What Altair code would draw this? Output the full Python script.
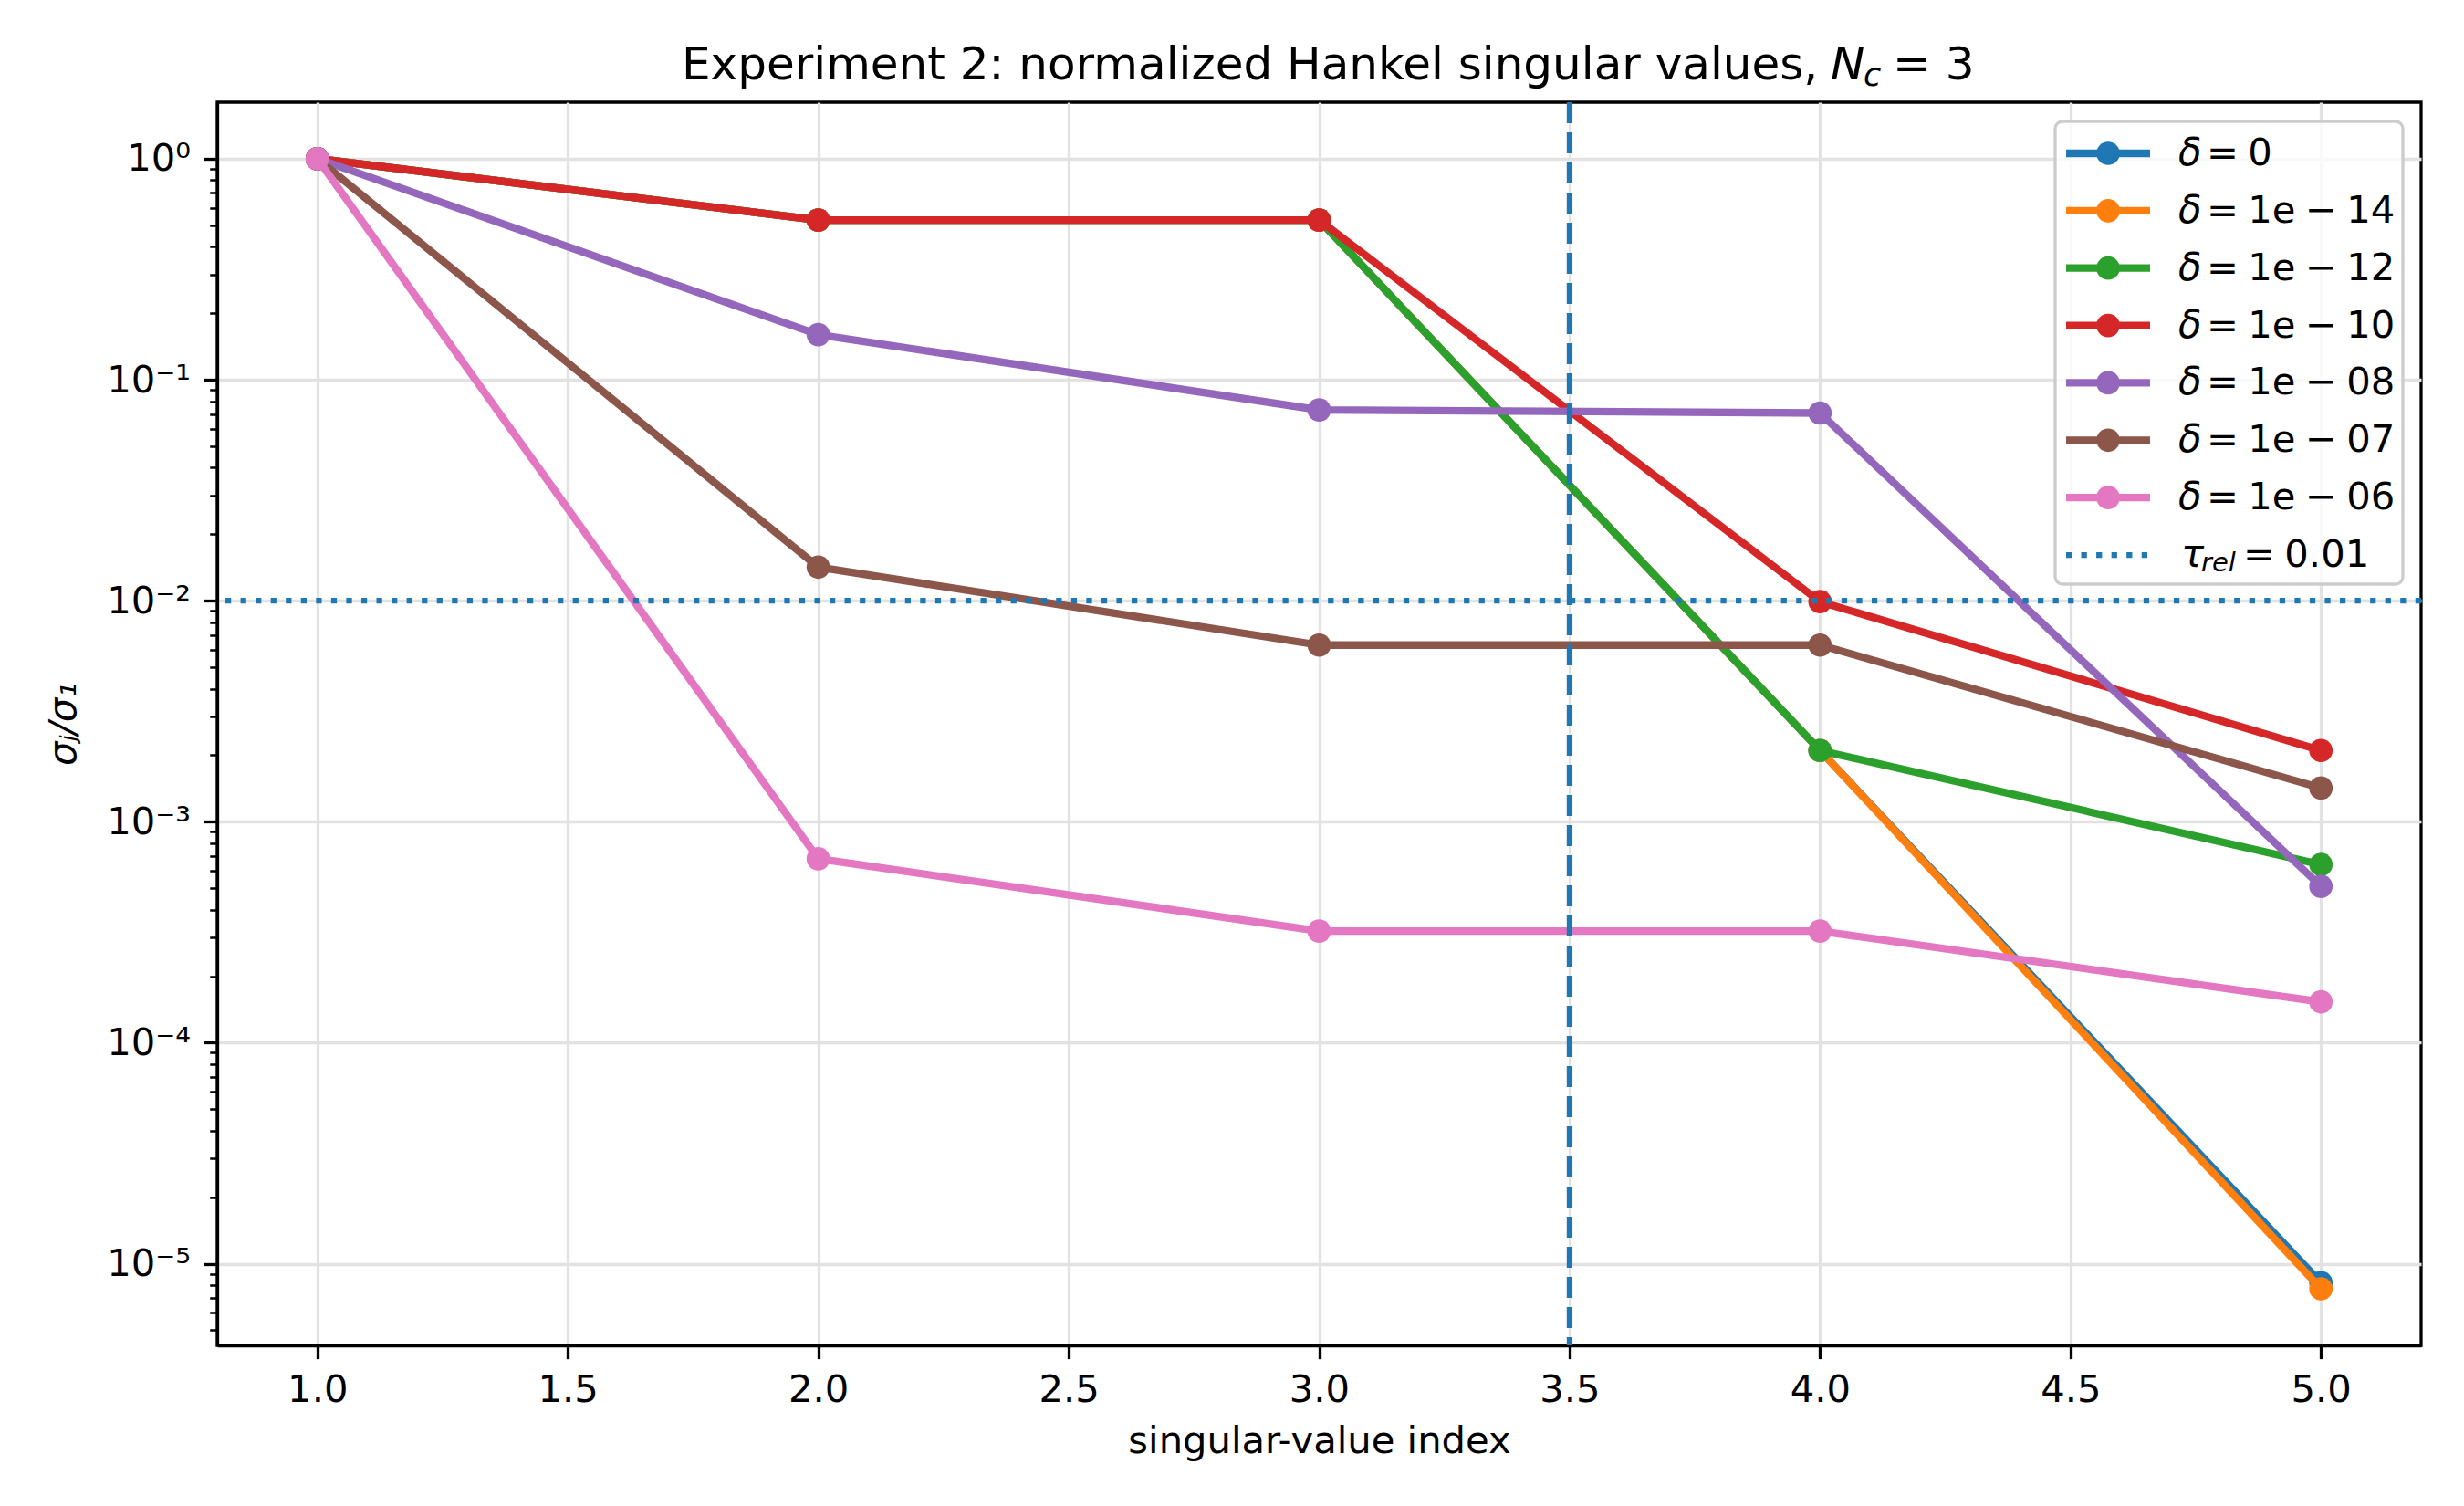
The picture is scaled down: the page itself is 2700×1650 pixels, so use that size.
import altair as alt
import pandas as pd

# ---------------- data ----------------
index = [1, 2, 3, 4, 5]
names = ["d0", "d14", "d12", "d10", "d08", "d07", "d06"]
SP = "\u2005"
delta_rest = ["=" + SP + "0"] + ["=" + SP + "1e" + SP + "−" + SP + e for e in ["14", "12", "10", "08", "07", "06"]]
colors = ["#1f77b4", "#ff7f0e", "#2ca02c", "#d62728", "#9467bd", "#8c564b", "#e377c2"]

vals_d0 = [1.0, 0.528, 0.528, 0.0021, 8.2e-6]
vals_d14 = [1.0, 0.528, 0.528, 0.0021, 7.7e-6]
vals_d12 = [1.0, 0.528, 0.528, 0.0021, 0.00064]
vals_d10 = [1.0, 0.528, 0.528, 0.0099, 0.0021]
vals_d08 = [1.0, 0.160, 0.073, 0.0707, 0.00051]
vals_d07 = [1.0, 0.0142, 0.0063, 0.0063, 0.00142]
vals_d06 = [1.0, 0.00068, 0.00032, 0.00032, 0.000153]
all_vals = [vals_d0, vals_d14, vals_d12, vals_d10, vals_d08, vals_d07, vals_d06]

tau = 0.01
split_index = 3.5

x_ticks = [1.0, 1.5, 2.0, 2.5, 3.0, 3.5, 4.0, 4.5, 5.0]
y_ticks = [1.0, 1e-1, 1e-2, 1e-3, 1e-4, 1e-5]
y_minor = [m * 10.0 ** k for k in range(-6, 0) for m in range(2, 10) if m * 10.0 ** k > 4.3e-6]
title_parts = ["Experiment 2: normalized Hankel singular values,", "N", "c", "= 3"]

rows = []
for n, vals in zip(names, all_vals):
    for i, v in zip(index, vals):
        rows.append({"series": n, "idx": i, "val": v})
df = pd.DataFrame(rows)

# ---------------- styling ----------------
FONT = "DejaVu Sans"
FS = 41.7
W, H = 2415, 1362

xscale = alt.Scale(domain=[0.8, 5.2], nice=False, zero=False)
yscale = alt.Scale(type="log", domain=[4.27e-6, 1.802], nice=False)
cscale = alt.Scale(domain=names, range=colors)

xaxis = alt.Axis(
    values=x_ticks, format=".1f", orient="bottom", labelFont=FONT, labelFontSize=FS, labelColor="black",
    labelPadding=14, labelFlush=False, labelOverlap=False,
    tickColor="black", tickWidth=3.3, tickSize=14.6,
    domainColor="black", domainWidth=3.3,
    grid=True, gridColor="#e2e2e2", gridWidth=3.3,
    title="singular-value index", titleFont=FONT, titleFontSize=FS, titleFontWeight="normal",
    titleColor="black", titlePadding=14,
)

ylabel_expr = ("datum.value >= 0.5 ? '10⁰' : datum.value >= 0.05 ? '10⁻¹' : "
               "datum.value >= 0.005 ? '10⁻²' : datum.value >= 0.0005 ? '10⁻³' : "
               "datum.value >= 0.00005 ? '10⁻⁴' : '10⁻⁵'")
yaxis = alt.Axis(
    values=y_ticks, labelExpr=ylabel_expr, orient="left",
    labelFont=FONT, labelFontSize=FS, labelColor="black", labelPadding=15,
    labelBaseline="middle", labelFlush=False, labelOverlap=False,
    tickColor="black", tickWidth=3.3, tickSize=14.6,
    domainColor="black", domainWidth=3.3,
    grid=True, gridColor="#e2e2e2", gridWidth=3.3,
    title="σⱼ/σ₁", titleFont=FONT, titleFontSize=FS, titleFontWeight="normal",
    titleFontStyle="italic", titleColor="black",
    titleX=-169, titleY=H / 2, titleAngle=270, titleAlign="center", titleBaseline="middle",
)
yaxis_minor = alt.Axis(
    values=y_minor, orient="left", labels=False, grid=False, domain=False,
    tickColor="black", tickWidth=2.5, tickSize=8.3, title=None,
)

# ---------------- main plot layers ----------------
major = alt.Chart(df).mark_point(opacity=0).encode(
    x=alt.X("idx:Q", scale=xscale, axis=xaxis),
    y=alt.Y("val:Q", scale=yscale, axis=yaxis),
)
minor = alt.Chart(df).mark_point(opacity=0).encode(
    x=alt.X("idx:Q", scale=xscale, axis=None),
    y=alt.Y("val:Q", scale=yscale, axis=yaxis_minor),
)

series_layers = []
for n in names:
    b = alt.Chart(df).transform_filter(alt.datum.series == n).encode(
        x=alt.X("idx:Q", scale=xscale, axis=None),
        y=alt.Y("val:Q", scale=yscale, axis=None),
        color=alt.Color("series:N", scale=cscale, legend=None),
    )
    series_layers.append(b.mark_line(strokeWidth=8.3, strokeJoin="round", strokeCap="butt"))
    series_layers.append(b.mark_circle(size=660, opacity=1))

tau_df = pd.DataFrame({"v": [tau]})
split_df = pd.DataFrame({"v": [split_index]})
hline = alt.Chart(tau_df).mark_rule(color="#1f77b4", strokeWidth=6.25, strokeDash=[6.25, 10.3]).encode(
    y=alt.Y("v:Q", scale=yscale, axis=None)
)
vline = alt.Chart(split_df).mark_rule(color="#1f77b4", strokeWidth=6.25, strokeDash=[23, 10]).encode(
    x=alt.X("v:Q", scale=xscale, axis=None)
)

# ---------------- legend ----------------
leg_keys = names + ["tau"]
lscale = alt.Scale(type="point", domain=leg_keys, range=[56, 496], padding=0)
leg_df = pd.DataFrame({"series": names, "sym": ["δ"] * len(names), "rest": delta_rest})
tau_leg_df = pd.DataFrame({"series": ["tau"], "sym": ["τ"], "sub": ["rel"], "rest": ["=" + SP + "0.01"]})

frame_df = pd.DataFrame({"k": [0]})
frame = alt.Chart(frame_df).mark_rect(
    fill="white", fillOpacity=0.8, stroke="#cccccc", strokeWidth=3.3, cornerRadius=8
).encode(x=alt.value(2014), x2=alt.value(2395), y=alt.value(21), y2=alt.value(528))

ly = alt.Y("series:N", scale=lscale, axis=None)
leg_lines = alt.Chart(leg_df).mark_rule(strokeWidth=8.3).encode(
    x=alt.value(2026), x2=alt.value(2118), y=ly,
    color=alt.Color("series:N", scale=cscale, legend=None),
)
leg_pts = alt.Chart(leg_df).mark_circle(size=660, opacity=1).encode(
    x=alt.value(2072), y=ly, color=alt.Color("series:N", scale=cscale, legend=None),
)
leg_sym = alt.Chart(leg_df).mark_text(
    font=FONT, fontSize=FS, fontStyle="italic", align="left", baseline="middle", color="black"
).encode(x=alt.value(2149), y=ly, text="sym:N")
leg_rest = alt.Chart(leg_df).mark_text(
    font=FONT, fontSize=FS, align="left", baseline="middle", color="black"
).encode(x=alt.value(2180), y=ly, text="rest:N")

tau_line = alt.Chart(tau_leg_df).mark_rule(color="#1f77b4", strokeWidth=6.25, strokeDash=[6.25, 10.3]).encode(
    x=alt.value(2026), x2=alt.value(2118), y=ly
)
tau_sym = alt.Chart(tau_leg_df).mark_text(
    font=FONT, fontSize=FS, fontStyle="italic", align="left", baseline="middle", color="black"
).encode(x=alt.value(2152), y=ly, text="sym:N")
tau_sub = alt.Chart(tau_leg_df).mark_text(
    font=FONT, fontSize=29, fontStyle="italic", align="left", baseline="middle", color="black", dy=9
).encode(x=alt.value(2174), y=ly, text="sub:N")
tau_rest = alt.Chart(tau_leg_df).mark_text(
    font=FONT, fontSize=FS, align="left", baseline="middle", color="black"
).encode(x=alt.value(2220), y=ly, text="rest:N")

# ---------------- title (as text, with italic N and subscript c) ----------------
tdf = pd.DataFrame({"t": title_parts})
def title_piece(i, x, y, size, italic):
    kw = dict(font=FONT, fontSize=size, align="left", baseline="alphabetic", color="black")
    if italic:
        kw["fontStyle"] = "italic"
    return alt.Chart(tdf).transform_filter(alt.datum.t == title_parts[i]).mark_text(**kw).encode(
        x=alt.value(x), y=alt.value(y), text="t:N"
    )

t0 = title_piece(0, 509, -25, 50, False)
t1 = title_piece(1, 1768, -25, 50, True)
t2 = title_piece(2, 1804, -18, 35, True)
t3 = title_piece(3, 1836, -25, 50, False)

chart = alt.layer(
    major, minor, *series_layers, hline, vline,
    frame, leg_lines, leg_pts, leg_sym, leg_rest, tau_line, tau_sym, tau_sub, tau_rest,
    t0, t1, t2, t3,
).resolve_scale(y="independent").resolve_axis(y="independent", x="independent").properties(
    width=W, height=H,
    padding={"left": 238, "top": 112, "right": 47, "bottom": 176},
    autosize=alt.AutoSizeParams(type="none"),
    background="white",
).configure_view(stroke="black", strokeWidth=3.3)

chart.save("out.html", embed_options={"renderer": "svg", "actions": False})
